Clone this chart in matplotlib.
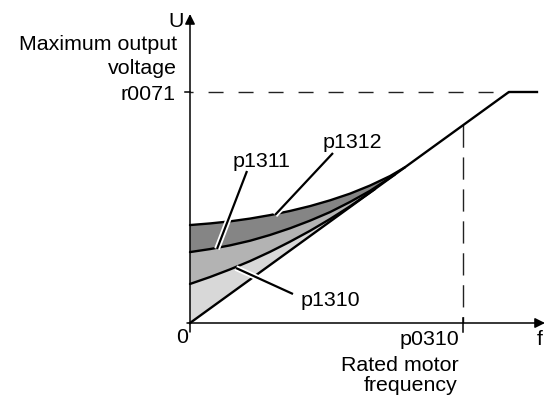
import matplotlib
matplotlib.use('Agg')
import matplotlib.pyplot as plt
import matplotlib.patheffects as pe

plt.rcParams['font.family'] = ['Liberation Sans', 'DejaVu Sans']

# ---- data (f relative to rated frequency p0310, U relative to r0071) ----
lin_f = [0.0, 1.168, 1.271]
lin_u = [0.0, 1.0, 1.0]

p1312_f = [0.000, 0.0733, 0.1465, 0.2198, 0.2930, 0.3663, 0.4396, 0.5128, 0.5861, 0.6593, 0.7326, 0.7875]
p1312_u = [0.424, 0.431, 0.440, 0.452, 0.467, 0.485, 0.506, 0.531, 0.560, 0.595, 0.636, 0.674]

p1311_f = [0.000, 0.0733, 0.1465, 0.2198, 0.2930, 0.3663, 0.4396, 0.5128, 0.5861, 0.6593, 0.7509]
p1311_u = [0.307, 0.320, 0.336, 0.356, 0.381, 0.410, 0.443, 0.480, 0.524, 0.572, 0.643]

p1310_f = [0.000, 0.0733, 0.1465, 0.2198, 0.2930, 0.3663, 0.4396, 0.5128, 0.5861, 0.6777]
p1310_u = [0.169, 0.199, 0.232, 0.268, 0.308, 0.352, 0.399, 0.450, 0.505, 0.580]

rated_f = 1.0
rated_u = 0.856
max_u = 1.0

labels_y = ["Maximum output", "voltage", "r0071"]
curve_labels = ["p1312", "p1311", "p1310"]

# colours
dark, mid, light = '#858585', '#b3b3b3', '#d8d8d8'


def X(px):
    return (px - 190) / 273.0


def Y(py):
    return (323 - py) / 231.0


fig = plt.figure(figsize=(5.49, 3.99), dpi=100)
ax = fig.add_axes([0, 0, 1, 1])
ax.set_xlim(X(0), X(549))
ax.set_ylim(Y(399), Y(0))
ax.axis('off')

# fills (stacked)
ax.fill(p1312_f + [0.0], p1312_u + [0.0], color=dark, lw=0, zorder=1)
ax.fill(p1311_f + [0.0], p1311_u + [0.0], color=mid, lw=0, zorder=2)
ax.fill(p1310_f + [0.0], p1310_u + [0.0], color=light, lw=0, zorder=3)

# dashed reference lines
ax.plot([0, lin_f[1]], [max_u, max_u], color='#222222', lw=1.0,
        linestyle=(8.6, (10.8, 10.8)), zorder=4)
ax.plot([rated_f, rated_f], [rated_u, 0.0], color='#222222', lw=1.0,
        linestyle=(0, (16, 7)), zorder=4)

# curves
for f, u in [(p1312_f, p1312_u), (p1311_f, p1311_u), (p1310_f, p1310_u)]:
    ax.plot(f, u, color='black', lw=1.7, solid_joinstyle='round',
            solid_capstyle='round', zorder=5)
ax.plot(lin_f, lin_u, color='black', lw=1.7, solid_joinstyle='round', zorder=5)

# axes
arrow = dict(arrowstyle='-|>', color='black', lw=1.1, mutation_scale=15,
             shrinkA=0, shrinkB=0)
ax.annotate('', xy=(0, Y(14)), xytext=(0, Y(332)), arrowprops=arrow, zorder=6)
ax.annotate('', xy=(X(545), 0), xytext=(X(187), 0), arrowprops=arrow, zorder=6)
ax.plot([X(185), 0], [max_u, max_u], color='black', lw=1.1, zorder=6)
ax.plot([rated_f, rated_f], [Y(318), Y(332)], color='black', lw=1.1, zorder=6)

# leader lines with white halo
halo = [pe.Stroke(linewidth=4.2, foreground='white'), pe.Normal()]
leaders = [((333, 153), (275, 215)),
           ((247, 171), (217, 249)),
           ((236, 268), (293, 294))]
for (x0, y0), (x1, y1) in leaders:
    ax.plot([X(x0), X(x1)], [Y(y0), Y(y1)], color='black', lw=1.6,
            solid_capstyle='butt', path_effects=halo, zorder=7)

fs = 15.4
txt = dict(fontsize=fs, color='black', va='baseline', zorder=8)
ax.text(X(184), Y(27), "U", ha='right', **txt)
ax.text(X(177), Y(49.5), labels_y[0], ha='right', **txt)
ax.text(X(177), Y(74.5), labels_y[1], ha='right', **txt)
ax.text(X(176), Y(99.5), labels_y[2], ha='right', **txt)
ax.text(X(323), Y(148), curve_labels[0], ha='left', **txt)
ax.text(X(233), Y(167), curve_labels[1], ha='left', **txt)
ax.text(X(301), Y(306), curve_labels[2], ha='left', **txt)
ax.text(X(188), Y(343), "0", ha='right', **txt)
ax.text(X(459), Y(345), "p0310", ha='right', **txt)
ax.text(X(540), Y(345), "f", ha='center', **txt)
ax.text(X(459), Y(371), "Rated motor", ha='right', **txt)
ax.text(X(458), Y(391), "frequency", ha='right', **txt)

fig.savefig('out.png', dpi=100)
